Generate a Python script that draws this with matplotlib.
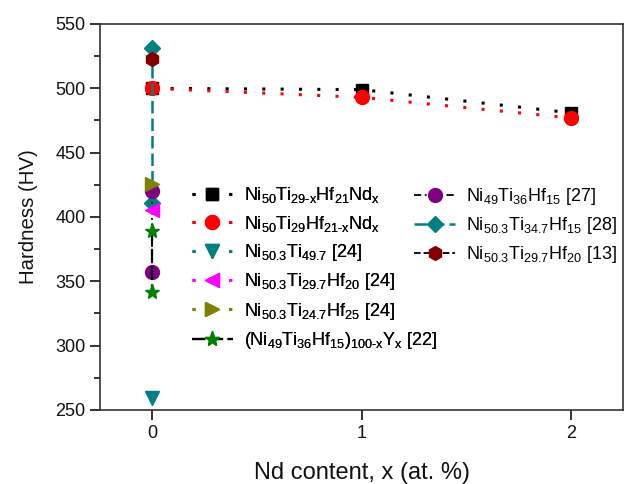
import matplotlib
matplotlib.use("Agg")
import matplotlib.pyplot as plt
from matplotlib.ticker import MultipleLocator
from matplotlib.legend import Legend

plt.rcParams['font.family'] = ['Liberation Sans', 'DejaVu Sans']
plt.rcParams['mathtext.fontset'] = 'custom'
plt.rcParams['mathtext.rm'] = 'Liberation Sans'
plt.rcParams['mathtext.it'] = 'Liberation Sans'
plt.rcParams['mathtext.default'] = 'regular'

# ---- data ----
x_nd = [0, 1, 2]
hv_ti = [500, 499, 481]          # Ni50Ti29-xHf21Ndx
hv_hf = [500, 493, 477]          # Ni50Ti29Hf21-xNdx
x0_1 = [0]
x0_2 = [0, 0]
hv_niti = [259]                  # Ni50.3Ti49.7 [24]
hv_hf20 = [405.5]                # Ni50.3Ti29.7Hf20 [24]
hv_hf25 = [426]                  # Ni50.3Ti24.7Hf25 [24]
hv_y = [389, 342]                # (Ni49Ti36Hf15)100-xYx [22]
hv_27 = [420, 357]               # Ni49Ti36Hf15 [27]
hv_28 = [531, 411]               # Ni50.3Ti34.7Hf15 [28]
hv_13 = [523]                    # Ni50.3Ti29.7Hf20 [13]

labels1 = [r'Ni$_{50}$Ti$_{29\text{-}x}$Hf$_{21}$Nd$_{x}$',
           r'Ni$_{50}$Ti$_{29}$Hf$_{21\text{-}x}$Nd$_{x}$',
           r'Ni$_{50.3}$Ti$_{49.7}$ [24]',
           r'Ni$_{50.3}$Ti$_{29.7}$Hf$_{20}$ [24]',
           r'Ni$_{50.3}$Ti$_{24.7}$Hf$_{25}$ [24]',
           r'(Ni$_{49}$Ti$_{36}$Hf$_{15}$)$_{100\text{-}x}$Y$_{x}$ [22]']
labels2 = [r'Ni$_{49}$Ti$_{36}$Hf$_{15}$ [27]',
           r'Ni$_{50.3}$Ti$_{34.7}$Hf$_{15}$ [28]',
           r'Ni$_{50.3}$Ti$_{29.7}$Hf$_{20}$ [13]']

teal = '#008080'
olive = '#808000'
purple = '#800080'
darkred = '#800000'
green = '#008000'
dot = (0, (1.0, 5.0))

fig = plt.figure(figsize=(6.28, 4.84), dpi=100)
ax = fig.add_axes([100/628, 1-410/484, 523/628, 386/484])

ms = 9
h_ti, = ax.plot(x_nd, hv_ti, color='black', ls=dot, lw=2.2, marker='s', ms=ms-1, mfc='black', mec='black')
h_hf, = ax.plot(x_nd, hv_hf, color='red', ls=dot, lw=2.2, marker='o', ms=ms+1, mfc='red', mec='red')
h_28, = ax.plot(x0_2, hv_28, color=teal, ls=(0, (5, 2)), lw=1.8, marker='D', ms=ms-1, mfc=teal, mec=teal)
h_27, = ax.plot(x0_2, hv_27, color='black', ls=(0, (4, 2, 1, 2)), lw=1.3, marker='o', ms=ms+1, mfc=purple, mec=purple)
h_y, = ax.plot(x0_2, hv_y, color='black', ls=(0, (6, 2)), lw=1.6, marker='*', ms=ms+2, mfc=green, mec=green)
h_13, = ax.plot(x0_1, hv_13, color='black', ls='--', lw=1.3, marker='h', ms=ms+1, mfc=darkred, mec=darkred)
h_niti, = ax.plot(x0_1, hv_niti, color=teal, ls=dot, lw=2.2, marker='v', ms=ms+1, mfc=teal, mec=teal)
h_hf20, = ax.plot(x0_1, hv_hf20, color='magenta', ls=dot, lw=2.2, marker='<', ms=ms+1, mfc='magenta', mec='magenta')
h_hf25, = ax.plot(x0_1, hv_hf25, color=olive, ls=dot, lw=2.2, marker='>', ms=ms+1, mfc=olive, mec=olive)

ax.set_xlim(-0.25, 2.25)
ax.set_ylim(250, 550)
ax.xaxis.set_major_locator(MultipleLocator(1))
ax.yaxis.set_major_locator(MultipleLocator(50))
ax.yaxis.set_minor_locator(MultipleLocator(25))
ax.tick_params(which='both', direction='out', top=False, right=False, labelsize=13, colors='#111111')
ax.tick_params(which='major', length=7, width=1.2)
ax.tick_params(which='minor', length=4, width=1.2)
ax.tick_params(axis='x', which='minor', bottom=False)
for s in ax.spines.values():
    s.set_linewidth(1.2)
    s.set_color('#333333')

ax.set_xlabel('Nd content, x (at. %)', fontsize=17, labelpad=15, color='#111111')
ax.set_ylabel('Hardness (HV)', fontsize=14.7, labelpad=12, color='#111111')

leg_kw = dict(frameon=False, fontsize=13, borderpad=0, borderaxespad=0,
              handlelength=2.3, handletextpad=0.6, labelspacing=0.46, loc='upper left')
leg1 = ax.legend([h_ti, h_hf, h_niti, h_hf20, h_hf25, h_y], labels1,
                 bbox_to_anchor=(0.175, 0.582), **leg_kw)
ax.add_artist(leg1)
leg2 = Legend(ax, [h_27, h_28, h_13], labels2, bbox_to_anchor=(0.60, 0.58),
              **{**leg_kw, 'labelspacing': 0.45})
ax.add_artist(leg2)

fig.savefig('out.png', dpi=100)
